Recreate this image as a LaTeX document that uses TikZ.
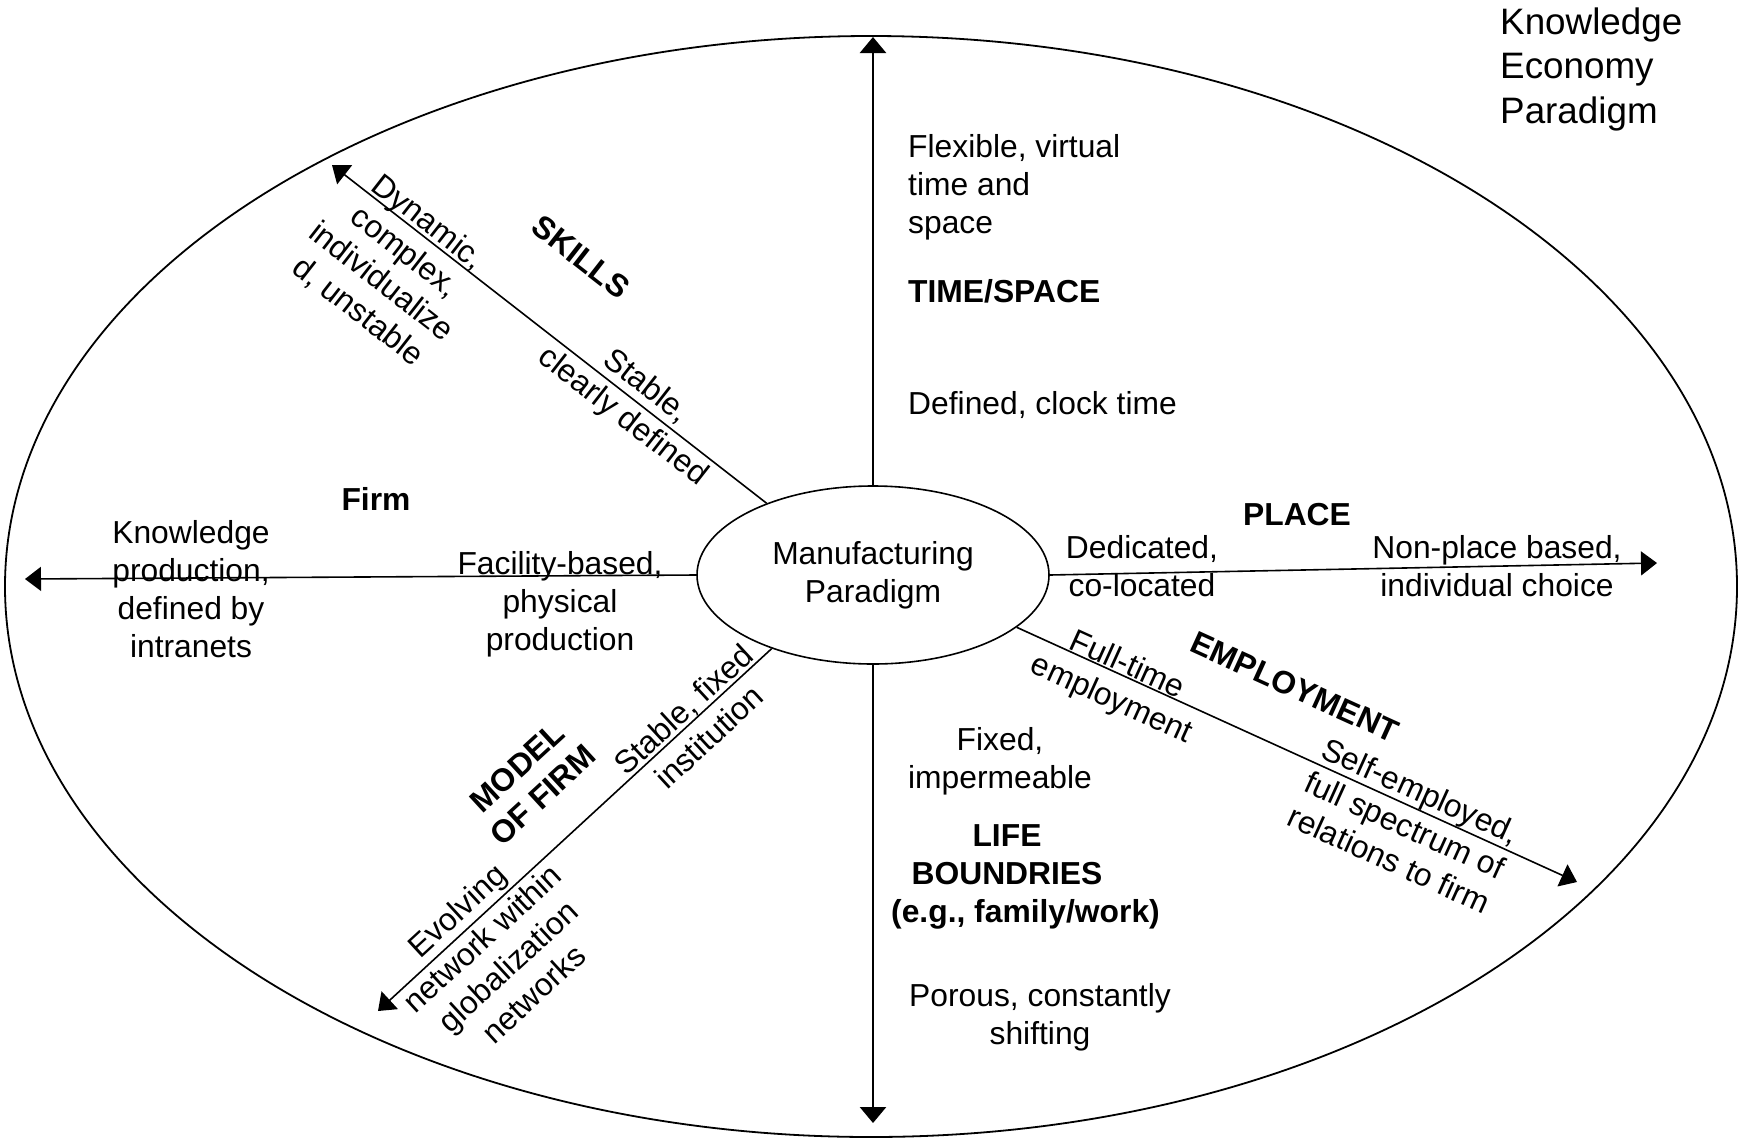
\documentclass[tikz,border=0pt]{standalone}
\usepackage{fontspec}
\setmainfont{Liberation Sans}
\usetikzlibrary{arrows.meta,shapes.geometric}
\tikzset{
  txt/.style={font=\fontsize{31.8pt}{37.8pt}\selectfont, align=center, inner sep=0pt},
  txtl/.style={txt, align=left, anchor=west},
  bld/.style={txt, font=\fontsize{31.8pt}{37.8pt}\selectfont\bfseries},
  arr/.style={line width=1.6pt, -{Triangle[length=16pt,width=24pt]}},
  varr/.style={line width=2.6pt, -{Triangle[length=16pt,width=26pt]}},
}
\begin{document}
\begin{tikzpicture}[x=1pt,y=-1pt]
\useasboundingbox (0,0) rectangle (1745,1138);
% outer ellipse
\node[draw, ellipse, line width=1.8pt, minimum width=1732pt, minimum height=1101pt, inner sep=0pt] (outer) at (871,586.5) {};
% centre
\node[draw, ellipse, line width=1.6pt, minimum width=352pt, minimum height=178pt, txt] (mp) at (873,575) {Manufacturing\\Paradigm};
% arrow ends
\coordinate (tTop) at (873,37);
\coordinate (tBot) at (873,1123);
\coordinate (tLeft) at (25,579);
\coordinate (tRight) at (1657,563);
\coordinate (tSkill) at (332,165);
\coordinate (tFirm) at (378,1011);
\coordinate (tEmp) at (1577,882);
\draw[varr] (mp.north) -- (tTop);
\draw[varr] (mp.south) -- (tBot);
\draw[arr] (mp.west) -- (tLeft);
\draw[arr] (mp.east) -- (tRight);
\draw[arr] (mp.146) -- (tSkill);
\draw[arr] (mp.216) -- (tFirm);
\draw[arr] (mp.-20) -- (tEmp);
% texts
\node[txtl, font=\fontsize{36.8pt}{44.5pt}\selectfont] (title) at (1500,69) {Knowledge\\Economy\\Paradigm};
\node[txtl] (flex) at (908,187) {Flexible, virtual\\time and\\space};
\node[bld, anchor=west] (ts) at (908,291) {TIME/SPACE};
\node[txtl] (clock) at (908,405) {Defined, clock time};
\node[bld] (place) at (1297,515) {PLACE};
\node[txt] (dedi) at (1142,566) {Dedicated,\\co-located};
\node[txt] (nonp) at (1497,566) {Non-place based,\\individual choice};
\node[bld] (firm) at (376,499) {Firm};
\node[txt] (know) at (191,589) {Knowledge\\production,\\defined by\\intranets};
\node[txt] (facil) at (560,604) {Facility-based,\\physical\\production};
\node[txt] (fixed) at (1000,761) {Fixed,\\impermeable};
\node[bld] (life) at (1007,877) {LIFE\\BOUNDRIES\\\hspace*{37pt}(e.g., family/work)};
\node[txt] (porous) at (1040,1017) {Porous, constantly\\shifting};
\node[bld, rotate=-38] (skills) at (581,257) {SKILLS};
\node[txt, rotate=-38] (dyn) at (393,267) {Dynamic,\\complex,\\individualize\\d, unstable};
\node[txt, rotate=-38] (stab) at (634,402) {Stable,\\clearly defined};
\node[bld, rotate=42.6] (model) at (530,781) {MODEL\\OF FIRM};
\node[txt, rotate=42.6] (stfix) at (696,723) {Stable, fixed\\institution};
\node[txt, rotate=42.6] (evol) at (495,952) {Evolving\\network within\\globalization\\networks};
\node[bld, rotate=-24.4] (emp) at (1295,687) {EMPLOYMENT};
\node[txt, rotate=-24.4] (full) at (1119,683) {Full-time\\employment};
\node[txt, rotate=-24.4] (self) at (1405,825) {Self-employed,\\full spectrum of\\relations to firm};
\end{tikzpicture}
\end{document}
